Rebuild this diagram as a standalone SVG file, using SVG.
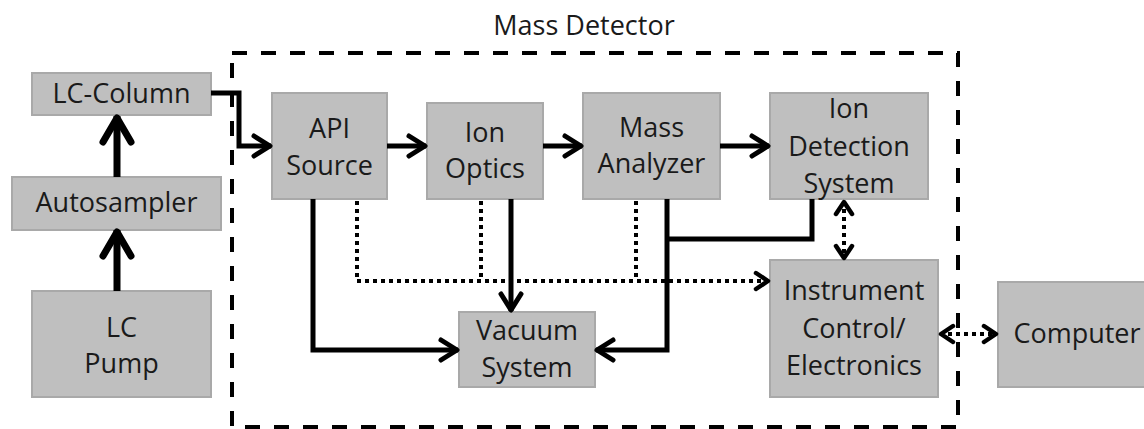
<svg xmlns="http://www.w3.org/2000/svg" width="1144" height="429" viewBox="0 0 1144 429">
<defs>
<style>
.box{fill:#bfbfbf;stroke:#a9a9a9;stroke-width:2}
.t{font-family:"Open Sans","Noto Sans",sans-serif;font-size:27px;fill:#1a1a1a;text-anchor:middle}
.ln{fill:none;stroke:#000;stroke-width:5;stroke-linejoin:miter}
.thick{fill:none;stroke:#000;stroke-width:7}
.dot{fill:none;stroke:#000;stroke-width:4;stroke-dasharray:4 4}
.dash{fill:none;stroke:#000;stroke-width:4;stroke-dasharray:15 14}
</style>
<marker id="a" viewBox="0 0 24 28" refX="21" refY="14" markerWidth="24" markerHeight="28" markerUnits="userSpaceOnUse" orient="auto">
<path d="M4,4 L20,14 L4,24" fill="none" stroke="#000" stroke-width="5" stroke-linecap="round" stroke-linejoin="round"/>
</marker>
<marker id="am" viewBox="0 0 20 22" refX="17" refY="11" markerWidth="20" markerHeight="22" markerUnits="userSpaceOnUse" orient="auto-start-reverse">
<path d="M4,3 L16,11 L4,19" fill="none" stroke="#000" stroke-width="4.5" stroke-linecap="round" stroke-linejoin="round" stroke-dasharray="none"/>
</marker>
<marker id="ab" viewBox="0 0 36 38" refX="32" refY="19" markerWidth="36" markerHeight="38" markerUnits="userSpaceOnUse" orient="auto">
<path d="M6,5 L30,19 L6,33" fill="none" stroke="#000" stroke-width="7" stroke-linecap="round" stroke-linejoin="round"/>
</marker>
</defs>
<rect width="1144" height="429" fill="#fff"/>

<g id="mass-detector">
<rect class="dash" x="232" y="53" width="726" height="374"/>
<text class="t" x="584" y="35">Mass Detector</text>
</g>

<g id="lc-column">
<rect class="box" x="32" y="73" width="179" height="42"/>
<text class="t" x="121.5" y="103">LC-Column</text>
</g>
<g id="autosampler">
<rect class="box" x="12" y="177" width="209" height="53"/>
<text class="t" x="116.5" y="212">Autosampler</text>
</g>
<g id="lc-pump">
<rect class="box" x="32" y="291" width="179" height="106"/>
<text class="t" x="121.5" y="337">LC</text>
<text class="t" x="121.5" y="373">Pump</text>
</g>
<g id="api-source">
<rect class="box" x="272" y="93" width="115" height="106"/>
<text class="t" x="329.5" y="138">API</text>
<text class="t" x="329.5" y="175">Source</text>
</g>
<g id="ion-optics">
<rect class="box" x="427" y="103" width="116" height="96"/>
<text class="t" x="485" y="142">Ion</text>
<text class="t" x="485" y="178">Optics</text>
</g>
<g id="mass-analyzer">
<rect class="box" x="583" y="93" width="137" height="106"/>
<text class="t" x="651.5" y="137">Mass</text>
<text class="t" x="651.5" y="173">Analyzer</text>
</g>
<g id="ion-detection">
<rect class="box" x="770" y="93" width="158" height="106"/>
<text class="t" x="849" y="118">Ion</text>
<text class="t" x="849" y="156">Detection</text>
<text class="t" x="849" y="193">System</text>
</g>
<g id="vacuum-system">
<rect class="box" x="459" y="312" width="136" height="75"/>
<text class="t" x="527" y="340">Vacuum</text>
<text class="t" x="527" y="377">System</text>
</g>
<g id="instrument-control">
<rect class="box" x="770" y="260" width="168" height="137"/>
<text class="t" x="854" y="300">Instrument</text>
<text class="t" x="854" y="338">Control/</text>
<text class="t" x="854" y="375">Electronics</text>
</g>
<g id="computer">
<rect class="box" x="998" y="282" width="160" height="105"/>
<text class="t" x="1077" y="343">Computer</text>
</g>

<g id="connectors">
<line class="thick" x1="117" y1="291" x2="117" y2="230" marker-end="url(#ab)"/>
<line class="thick" x1="117" y1="177" x2="117" y2="116" marker-end="url(#ab)"/>
<polyline class="ln" points="211,93 239,93 239,146 271,146" marker-end="url(#a)"/>
<line class="ln" x1="387" y1="146" x2="426" y2="146" marker-end="url(#a)"/>
<line class="ln" x1="543" y1="146" x2="582" y2="146" marker-end="url(#a)"/>
<line class="ln" x1="720" y1="146" x2="769" y2="146" marker-end="url(#a)"/>
<polyline class="ln" points="313,199 313,350 458,350" marker-end="url(#a)"/>
<line class="ln" x1="511" y1="199" x2="511" y2="311" marker-end="url(#a)"/>
<polyline class="ln" points="667,199 667,350 596,350" marker-end="url(#a)"/>
<polyline class="ln" points="812,199 812,239 667,239"/>
<polyline class="dot" points="357,201 357,281 769,281" marker-end="url(#am)"/>
<line class="dot" x1="481" y1="201" x2="481" y2="281"/>
<line class="dot" x1="636" y1="201" x2="636" y2="281"/>
<line class="dot" x1="844" y1="201" x2="844" y2="259" marker-start="url(#am)" marker-end="url(#am)"/>
<line class="dot" x1="940" y1="334" x2="997" y2="334" marker-start="url(#am)" marker-end="url(#am)"/>
</g>
</svg>
